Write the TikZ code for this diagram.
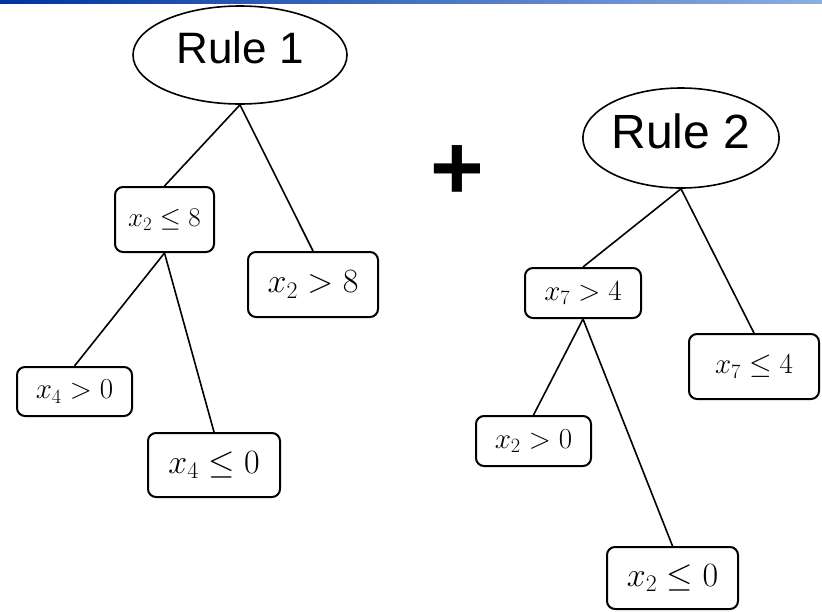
\RequirePackage{fix-cm}
\documentclass[tikz,border=0pt]{standalone}
\usepackage{fontspec}
\newfontfamily\arialf{Liberation Sans}
\usetikzlibrary{shapes.geometric}
\definecolor{bardark}{RGB}{0,51,160}
\definecolor{barlight}{RGB}{140,175,225}
\tikzset{
  rulebox/.style={ellipse, draw, line width=1.6pt, inner sep=0pt, font=\arialf\fontsize{44}{50}\selectfont, text depth=14pt},
  condbox/.style={draw, line width=2pt, rounded corners=8pt, fill=white, inner sep=0pt},
  link/.style={line width=1.6pt},
}
\begin{document}
\begin{tikzpicture}[x=1pt,y=-1pt]
\useasboundingbox (0,0) rectangle (822,611);
\shade[left color=bardark, right color=barlight] (0,0) rectangle (822,3);
% Rule 1 tree
\node[rulebox, minimum width=214pt, minimum height=98pt] (r1) at (240,55) {Rule 1};
\node[condbox, minimum width=99pt, minimum height=65pt, font=\fontsize{27}{32}\selectfont] (a) at (164.5,219.5) {$x_2\leq 8$};
\node[condbox, minimum width=130pt, minimum height=65pt, font=\fontsize{34}{40}\selectfont] (b) at (313,284.5) {$x_2>8$};
\node[condbox, minimum width=115pt, minimum height=49pt, font=\fontsize{29}{34}\selectfont] (c) at (74.5,391.5) {$x_4>0$};
\node[condbox, minimum width=132pt, minimum height=64pt, font=\fontsize{34}{40}\selectfont] (d) at (214,465) {$x_4\leq 0$};
\draw[link] (r1.south) -- (a.north);
\draw[link] (r1.south) -- (b.north);
\draw[link] (a.south) -- (c.north);
\draw[link] (a.south) -- (d.north);
% plus
\node[font=\arialf\bfseries\fontsize{92}{92}\selectfont, inner sep=0pt] (plus) at (457.5,173) {+};
% Rule 2 tree
\node[rulebox, minimum width=182pt, minimum height=100pt, font=\arialf\fontsize{48}{54}\selectfont] (r2) at (681,138) {Rule 2};
\node[condbox, minimum width=116pt, minimum height=50pt, font=\fontsize{29}{34}\selectfont] (e) at (583,293) {$x_7>4$};
\node[condbox, minimum width=130pt, minimum height=65pt, font=\fontsize{29}{34}\selectfont] (f) at (754,366.5) {$x_7\leq 4$};
\node[condbox, minimum width=115pt, minimum height=50pt, font=\fontsize{29}{34}\selectfont] (g) at (533.5,441) {$x_2>0$};
\node[condbox, minimum width=131pt, minimum height=62pt, font=\fontsize{34}{40}\selectfont] (h) at (672.5,578) {$x_2\leq 0$};
\draw[link] (r2.south) -- (e.north);
\draw[link] (r2.south) -- (f.north);
\draw[link] (e.south) -- (g.north);
\draw[link] (e.south) -- (h.north);
\end{tikzpicture}
\end{document}
